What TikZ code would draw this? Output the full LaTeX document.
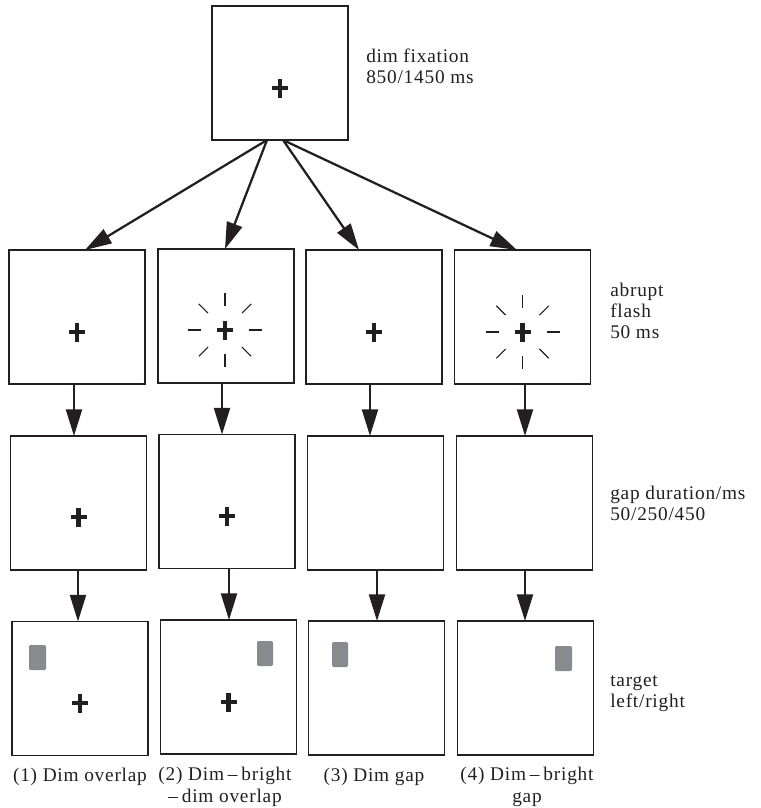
\documentclass[tikz,border=0pt]{standalone}
\usepackage{fontspec}
\setmainfont{Liberation Serif}[LetterSpace=4]
\usetikzlibrary{arrows.meta}
\definecolor{tgray}{HTML}{878B90}
\definecolor{ink}{HTML}{231F20}
\newcommand\dimdash{\hspace{0.2em}–\hspace{0.2em}}
\begin{document}
\begin{tikzpicture}[x=0.75pt,y=-0.75pt,
  box/.style={draw=ink, line width=0.9pt, minimum width=102pt, minimum height=100.5pt, inner sep=0pt, outer sep=0pt},
  arr/.style={draw=ink, line width=1.7pt, -{Triangle[length=20pt,width=12pt]}},
  ray/.style={draw=ink, line width=0.8pt},
  fixbar/.style={draw=ink, line width=3.2pt},
  tgt/.style={fill=tgray, rounded corners=1pt},
  lbl/.style={align=left, anchor=base west, inner sep=0pt, text=ink, font=\fontsize{14.5pt}{15.5pt}\selectfont},
  captxt/.style={align=center, anchor=base, inner sep=0pt, text=ink, font=\fontsize{14.5pt}{16pt}\selectfont},
  fixcross/.pic={\draw[fixbar] (-8,0) -- (8,0); \draw[fixbar] (0,-9.5) -- (0,9.5);},
  flash/.pic={\foreach \a in {0,45,...,315} \draw[ray] (\a:24) -- (\a:37);}
]
\useasboundingbox (0,0) rectangle (761,808);

% boxes
\node[box] (t)  at (280,73) {};
\node[box] (a2) at (77,317) {};
\node[box] (b2) at (226,316) {};
\node[box] (c2) at (374,317) {};
\node[box] (d2) at (522.5,317) {};
\node[box] (a3) at (78.5,503) {};
\node[box] (b3) at (227,501.5) {};
\node[box] (c3) at (375.5,503) {};
\node[box] (d3) at (524.5,503) {};
\node[box] (a4) at (80,688.5) {};
\node[box] (b4) at (228.5,687) {};
\node[box] (c4) at (376.5,688) {};
\node[box] (d4) at (525.5,688) {};

% fixation crosses
\pic at ([shift={(0,15)}]t.center) {fixcross};
\pic at ([shift={(0,15)}]a2.center) {fixcross};
\pic at ([shift={(-1,14)}]b2.center) {fixcross};
\pic at ([shift={(0,15)}]c2.center) {fixcross};
\pic at ([shift={(0,15)}]d2.center) {fixcross};
\pic at ([shift={(0,14)}]a3.center) {fixcross};
\pic at ([shift={(0,14.5)}]b3.center) {fixcross};
\pic at ([shift={(0,14.5)}]a4.center) {fixcross};
\pic at ([shift={(0,15)}]b4.center) {fixcross};

% flashes
\pic at ([shift={(-1,14)}]b2.center) {flash};
\pic at ([shift={(0,15)}]d2.center) {flash};

% targets
\fill[tgt] ([shift={(-51,-43.5)}]a4.center) rectangle ([shift={(-34,-18.5)}]a4.center);
\fill[tgt] ([shift={(28.5,-46)}]b4.center) rectangle ([shift={(44.5,-21)}]b4.center);
\fill[tgt] ([shift={(-44.5,-46)}]c4.center) rectangle ([shift={(-28.5,-21)}]c4.center);
\fill[tgt] ([shift={(29.5,-42)}]d4.center) rectangle ([shift={(46.5,-17)}]d4.center);

% arrows from top
\draw[arr] ([shift={(-13,0)}]t.south) -- ([shift={(8,0)}]a2.north);
\draw[arr] ([shift={(-13,0)}]t.south) -- ([shift={(-1,0)}]b2.north);
\draw[arr] ([shift={(3,0)}]t.south) -- ([shift={(-15,0)}]c2.north);
\draw[arr] ([shift={(3,0)}]t.south) -- ([shift={(-5.5,0)}]d2.north);

% row 2 -> row 3
\draw[arr] ([shift={(-3,0)}]a2.south) -- ([shift={(-4.5,0)}]a3.north);
\draw[arr] ([shift={(-4,0)}]b2.south) -- ([shift={(-5,0)}]b3.north);
\draw[arr] ([shift={(-4,0)}]c2.south) -- ([shift={(-5.5,0)}]c3.north);
\draw[arr] ([shift={(2.5,0)}]d2.south) -- ([shift={(0.5,0)}]d3.north);

% row 3 -> row 4
\draw[arr] ([shift={(-0.5,0)}]a3.south) -- ([shift={(-2,0)}]a4.north);
\draw[arr] ([shift={(2,0)}]b3.south) -- ([shift={(0.5,0)}]b4.north);
\draw[arr] ([shift={(1.5,0)}]c3.south) -- ([shift={(0.5,0)}]c4.north);
\draw[arr] ([shift={(0.5,0)}]d3.south) -- ([shift={(-0.5,0)}]d4.north);

% right labels (anchor = baseline of last line)
\node[lbl] (l1) at (366,83) {dim fixation\\850/1450 ms};
\node[lbl] (l2) at (610,338) {abrupt\\flash\\50 ms};
\node[lbl] (l3) at (610,520) {gap duration/ms\\50/250/450};
\node[lbl] (l4) at (610,707) {target\\left/right};

% captions
\node[captxt] (k1) at (80,781) {(1) Dim overlap};
\node[captxt] (k2) at (225,802) {(2) Dim\dimdash bright\\–\hspace{0.2em}dim overlap};
\node[captxt] (k3) at (374,781) {(3) Dim gap};
\node[captxt] (k4) at (527,802) {(4) Dim\dimdash bright\\gap};
\end{tikzpicture}
\end{document}
